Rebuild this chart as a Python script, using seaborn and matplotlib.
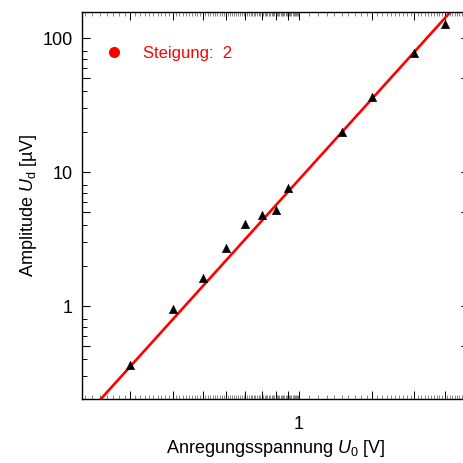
import numpy as np
import pandas as pd
import matplotlib
matplotlib.use("Agg")
import matplotlib.pyplot as plt
from matplotlib.lines import Line2D
from matplotlib.ticker import FixedLocator, FixedFormatter, NullFormatter
import seaborn as sns

# Measured drive voltage U0 [V] and detected amplitude Ud [µV]
u0 = [0.2, 0.3, 0.4, 0.5, 0.6, 0.7, 0.8, 0.9, 1.5, 2.0, 3.0, 4.0]
ud = [0.363, 0.945, 1.61, 2.70, 4.09, 4.78, 5.2, 7.56, 19.8, 36.5, 76.9, 128.0]

# Power-law guide line Ud = k * U0^2
slope = 2
k = 8.8
fit_x = [0.12, 5.2]

legend_text = "Steigung:  2"

sns.set_theme(style="ticks")
plt.rcParams["font.family"] = ["Liberation Sans", "DejaVu Sans"]
plt.rcParams["mathtext.fontset"] = "custom"
plt.rcParams["mathtext.rm"] = "Liberation Sans"
plt.rcParams["mathtext.it"] = "Liberation Sans:italic"

fig = plt.figure(figsize=(4.63, 4.63), dpi=100)
W = H = 463.0
ax = fig.add_axes([82 / W, (H - 399) / H, (469 - 82) / W, (399 - 12.3) / H])
ax.set_facecolor("white")

data = pd.DataFrame({"U0": u0, "Ud": ud})
fit = pd.DataFrame({"U0": fit_x, "Ud": [k * x ** slope for x in fit_x]})

sns.lineplot(data=fit, x="U0", y="Ud", color="#ff0000", lw=1.9, ax=ax, zorder=2)
sns.scatterplot(data=data, x="U0", y="Ud", marker="^", color="black", s=38,
                edgecolor="black", linewidth=0.3, ax=ax, zorder=3)

ax.set_xscale("log")
ax.set_yscale("log")
ax.set_xlim(0.1267, 5.04)
ax.set_ylim(0.2023, 156)

for s in ax.spines.values():
    s.set_visible(True)
    s.set_color("black")
    s.set_linewidth(1.0)

# x ticks: fine linear steps inside each decade
xmaj = [0.2, 0.3, 0.4, 0.5, 0.6, 0.7, 0.8, 0.9, 1.0, 2.0, 3.0, 4.0, 5.0]
xmin = [round(v, 2) for v in np.arange(0.13, 1.0, 0.01)] + \
       [round(v, 1) for v in np.arange(1.1, 5.01, 0.1)]
xmin = [v for v in xmin if all(abs(v - m) > 1e-6 for m in xmaj)]
ax.xaxis.set_major_locator(FixedLocator(xmaj))
ax.xaxis.set_major_formatter(FixedFormatter(["1" if v == 1.0 else "" for v in xmaj]))
ax.xaxis.set_minor_locator(FixedLocator(xmin))
ax.xaxis.set_minor_formatter(NullFormatter())

ymaj = [0.5, 1, 5, 10, 50, 100]
ylab = {1: "1", 10: "10", 100: "100"}
ymin = [m * d for d in (0.1, 1, 10, 100) for m in (2, 3, 4, 6, 7, 8)]
ax.yaxis.set_major_locator(FixedLocator(ymaj))
ax.yaxis.set_major_formatter(FixedFormatter([ylab.get(v, "") for v in ymaj]))
ax.yaxis.set_minor_locator(FixedLocator(ymin))
ax.yaxis.set_minor_formatter(NullFormatter())

ax.tick_params(axis="both", which="both", direction="in", top=True, right=True,
               color="black", labelsize=13, labelcolor="black")
ax.tick_params(axis="x", which="major", length=5.5, width=0.7, pad=12)
ax.tick_params(axis="x", which="minor", length=3.0, width=0.45, color="#444444")
ax.tick_params(axis="y", which="major", length=6.0, width=0.8, pad=6.5)
ax.tick_params(axis="y", which="minor", length=3.5, width=0.7)

ax.set_xlabel(r"Anregungsspannung $\mathit{U}_\mathit{0}$ [V]", fontsize=13,
              color="black", labelpad=4)
ax.set_ylabel(r"Amplitude $\mathit{U}_\mathrm{d}$ [µV]", fontsize=13, color="black",
              labelpad=3)

handle = Line2D([], [], marker="o", color="#ff0000", ls="", markersize=7)
ax.legend(handles=[handle], labels=[legend_text], loc="upper left",
          bbox_to_anchor=(106 / W, (H - 46) / H), bbox_transform=fig.transFigure,
          frameon=False, labelcolor="#ff0000", fontsize=12, handlelength=1.0,
          handletextpad=1.2, borderpad=0, borderaxespad=0)

fig.savefig("out.png", dpi=100)
